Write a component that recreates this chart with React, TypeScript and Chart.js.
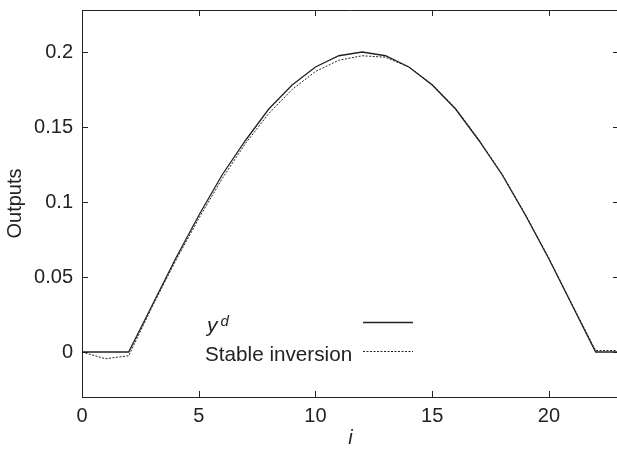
import React, { useEffect, useRef } from 'react';
import { Chart, registerables } from 'chart.js';

Chart.register(...registerables);

// ---- data ----
const iValues = [0, 1, 2, 3, 4, 5, 6, 7, 8, 9, 10, 11, 12, 13, 14, 15, 16, 17, 18, 19, 20, 21, 22, 23];
const desiredOutput = [
  0, 0, 0, 0.031, 0.062, 0.091, 0.118, 0.141, 0.162, 0.178, 0.19, 0.1975,
  0.2, 0.1975, 0.19, 0.178, 0.162, 0.141, 0.118, 0.091, 0.062, 0.031, 0, 0,
];
const stableInversion = [
  0, -0.0045, -0.0025, 0.03, 0.0605, 0.089, 0.1155, 0.139, 0.159, 0.175, 0.187, 0.1945,
  0.1975, 0.1965, 0.19, 0.1785, 0.1625, 0.1415, 0.1185, 0.0915, 0.0625, 0.0315, 0.001, 0.001,
];
const xTicks = [0, 5, 10, 15, 20];
const yTicks = [0, 0.05, 0.1, 0.15, 0.2];
const yTickLabels = ['0', '0.05', '0.1', '0.15', '0.2'];
const xRange = [0, 23];
const yRange = [-0.03, 0.228];
const legendBase = 'y';
const legendSup = 'd';
const legendSecond = 'Stable inversion';
const xTitle = 'i';
const yTitle = 'Outputs';

const INK = '#222';
const FONT = '"Liberation Sans", Arial, Helvetica, sans-serif';

const framePlugin = {
  id: 'frame',
  afterDraw(chart: any) {
    const { ctx, chartArea: a, scales } = chart;
    const xs = scales.x;
    const ys = scales.y;
    ctx.save();
    ctx.strokeStyle = INK;
    ctx.lineWidth = 1;
    ctx.beginPath();
    ctx.moveTo(a.left, a.top + 0.5);
    ctx.lineTo(a.right, a.top + 0.5);
    ctx.moveTo(a.right - 0.5, a.top);
    ctx.lineTo(a.right - 0.5, a.bottom);
    xTicks.forEach((v) => {
      const px = Math.round(xs.getPixelForValue(v)) + 0.5;
      ctx.moveTo(px, a.bottom);
      ctx.lineTo(px, a.bottom - 6);
      ctx.moveTo(px, a.top);
      ctx.lineTo(px, a.top + 6);
    });
    yTicks.forEach((v) => {
      const py = Math.round(ys.getPixelForValue(v)) + 0.5;
      ctx.moveTo(a.left, py);
      ctx.lineTo(a.left + 6, py);
      ctx.moveTo(a.right, py);
      ctx.lineTo(a.right - 6, py);
    });
    ctx.stroke();

    // legend (gnuplot style)
    const textX = a.left + 123;
    const lineX0 = a.left + 281;
    const lineX1 = a.left + 331;
    const row1 = a.top + 312;
    const row2 = a.top + 341;
    ctx.fillStyle = INK;
    ctx.textBaseline = 'alphabetic';
    ctx.textAlign = 'left';
    ctx.font = `italic 21px ${FONT}`;
    ctx.fillText(legendBase, textX + 2, row1 + 10);
    const yw = ctx.measureText(legendBase).width;
    ctx.font = `italic 15px ${FONT}`;
    ctx.fillText(legendSup, textX + 2 + yw + 3, row1 + 4);
    ctx.font = `20.7px ${FONT}`;
    ctx.fillText(legendSecond, textX, row2 + 10);

    ctx.lineWidth = 1.3;
    ctx.beginPath();
    ctx.moveTo(lineX0, row1 + 0.5);
    ctx.lineTo(lineX1, row1 + 0.5);
    ctx.stroke();
    ctx.lineWidth = 1;
    ctx.setLineDash([2, 1.5]);
    ctx.beginPath();
    ctx.moveTo(lineX0, row2 + 0.5);
    ctx.lineTo(lineX1, row2 + 0.5);
    ctx.stroke();
    ctx.restore();
  },
};

export default function App() {
  const ref = useRef<HTMLCanvasElement>(null);
  useEffect(() => {
    const canvas = ref.current;
    if (!canvas) return;
    const chart = new Chart(canvas, {
      type: 'line',
      data: {
        datasets: [
          {
            label: 'y^d',
            data: iValues.map((x, k) => ({ x, y: desiredOutput[k] })),
            borderColor: INK,
            borderWidth: 1.3,
            pointRadius: 0,
            tension: 0,
            fill: false,
          },
          {
            label: legendSecond,
            data: iValues.map((x, k) => ({ x, y: stableInversion[k] })),
            borderColor: INK,
            borderWidth: 1,
            borderDash: [2, 1.5],
            pointRadius: 0,
            tension: 0,
            fill: false,
          },
        ],
      },
      options: {
        responsive: false,
        animation: false,
        devicePixelRatio: 1,
        layout: { padding: { left: 0, top: 10, right: 3, bottom: 0 } },
        plugins: { legend: { display: false }, tooltip: { enabled: false } },
        scales: {
          x: {
            type: 'linear',
            min: xRange[0],
            max: xRange[1],
            afterBuildTicks: (s: any) => {
              s.ticks = xTicks.map((v) => ({ value: v }));
            },
            afterFit: (s: any) => {
              s.height = 53;
              s.paddingLeft = 0;
              s.paddingRight = 0;
            },
            grid: { display: true, drawOnChartArea: false, drawTicks: false },
            border: { display: true, color: INK, width: 1 },
            ticks: {
              color: INK,
              padding: 7,
              maxRotation: 0,
              font: { family: FONT, size: 20 },
              callback: (v: any) => String(v),
            },
            title: {
              display: true,
              text: xTitle,
              color: INK,
              font: { family: FONT, size: 20, style: 'italic' },
              padding: { top: -2, bottom: 0 },
            },
          },
          y: {
            type: 'linear',
            min: yRange[0],
            max: yRange[1],
            afterBuildTicks: (s: any) => {
              s.ticks = yTicks.map((v) => ({ value: v }));
            },
            afterFit: (s: any) => {
              s.width = 82;
              s.paddingTop = 0;
              s.paddingBottom = 0;
            },
            grid: { display: true, drawOnChartArea: false, drawTicks: false },
            border: { display: true, color: INK, width: 1 },
            ticks: {
              color: INK,
              padding: 9,
              font: { family: FONT, size: 20 },
              callback: (v: any) => {
                const k = yTicks.indexOf(v);
                return k >= 0 ? yTickLabels[k] : '';
              },
            },
            title: {
              display: true,
              text: yTitle,
              color: INK,
              font: { family: FONT, size: 20 },
              padding: { top: 3, bottom: 0 },
            },
          },
        },
      },
      plugins: [framePlugin],
    });
    return () => chart.destroy();
  }, []);
  return (
    <div
      style={{
        position: 'fixed',
        left: 0,
        top: 0,
        width: 617,
        height: 450,
        overflow: 'hidden',
        background: '#fff',
      }}
    >
      <canvas ref={ref} width={622} height={450} style={{ width: 622, height: 450, display: 'block' }} />
    </div>
  );
}
